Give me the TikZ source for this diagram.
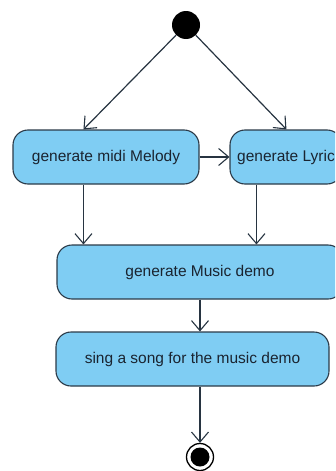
\documentclass[tikz,border=0pt]{standalone}
\usepackage{fontspec}
\setmainfont{Liberation Sans}
\usetikzlibrary{arrows.meta,calc}
\definecolor{actfill}{HTML}{7FCDF3}
\definecolor{actline}{HTML}{2B3A48}
\definecolor{txt}{HTML}{1A2430}
\begin{document}
\begin{tikzpicture}[x=1pt,y=-1pt,
  act/.style={draw=actline,line width=1.1pt,fill=actfill,rounded corners=15pt,
    minimum height=54pt,inner sep=0pt,text=txt,font=\fontsize{15.5}{17}\selectfont},
  flow/.style={draw=actline!90!black,line width=1.2pt,-{Straight Barb[length=10pt,width=17pt,line width=1.1pt]}}]
\useasboundingbox (0,0) rectangle (335,471);
\clip (0,0) rectangle (335,471);
\node[circle,fill=black,minimum size=28pt,inner sep=0pt] (start) at (186,25) {};
\node[act,minimum width=186pt] (b1) at (106,157) {generate midi Melody};
\node[act,minimum width=112pt] (b2) at (286,157) {generate Lyric};
\node[act,minimum width=286pt] (b3) at (200,272) {generate Music demo};
\node[act,minimum width=273pt] (b4) at (192.5,359) {sing a song for the music demo};
\node[circle,draw=black,line width=1.3pt,fill=white,minimum size=27pt,inner sep=0pt] (fin) at (200,457) {};
\node[circle,fill=black,minimum size=19pt,inner sep=0pt] (finin) at (fin) {};
\coordinate (b1top) at ($(b1.north west)+(71,0)$);
\coordinate (b2top) at ($(b2.north west)+(57,0)$);
\coordinate (b1bot) at ($(b1.south west)+(71,0)$);
\coordinate (b2bot) at ($(b2.south west)+(27,0)$);
\draw[flow] (start) -- (b1top);
\draw[flow] (start) -- (b2top);
\draw[flow] (b1.east) -- (b2.west);
\draw[flow] (b1bot) -- (b1bot |- b3.north);
\draw[flow] (b2bot) -- (b2bot |- b3.north);
\draw[flow] (b3.south) -- (b3.south |- b4.north);
\draw[flow] (b4.south -| fin) -- (fin.north);
\end{tikzpicture}
\end{document}
